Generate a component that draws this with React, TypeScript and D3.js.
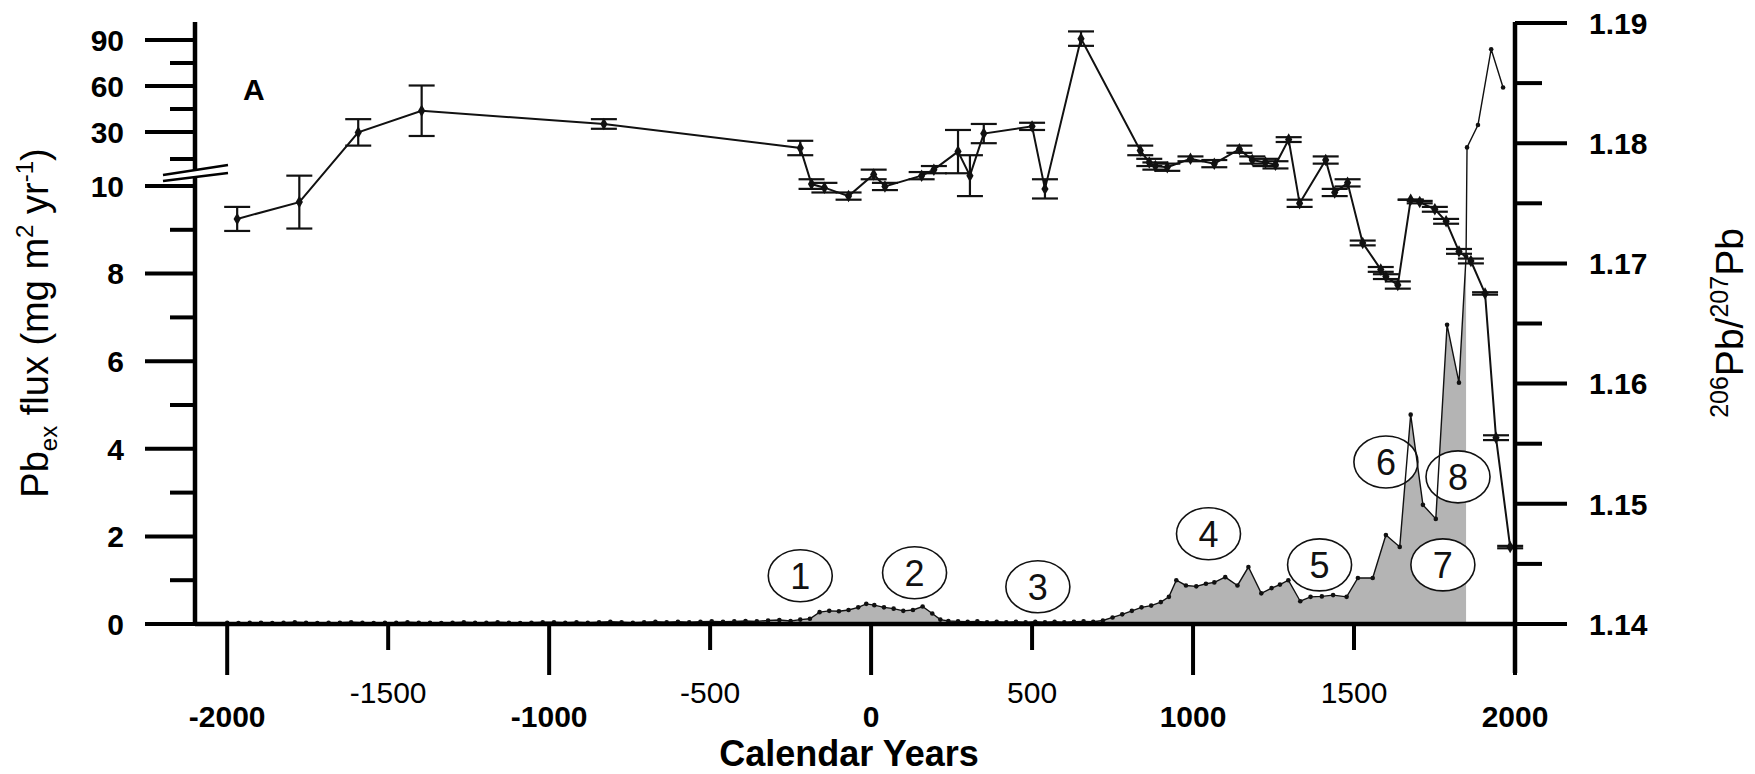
import React from "react";
import * as d3 from "d3";

// ---------- data ----------
const fluxYears = [
  -2000, -1965, -1930, -1895, -1860, -1825, -1790, -1755, -1720, -1685,
  -1650, -1615, -1580, -1545, -1510, -1475, -1440, -1405, -1370, -1335,
  -1300, -1265, -1230, -1195, -1160, -1125, -1090, -1055, -1020, -985,
  -950, -915, -880, -845, -810, -775, -740, -705, -670, -635,
  -600, -565, -530, -495, -460, -425, -390, -355, -320, -285, -250,
  -220, -190, -160, -130, -100, -70, -40, -15, 10, 40, 70, 100, 130, 160, 190,
  215, 240, 270, 300, 330, 360, 390, 420, 450, 480, 510, 540, 570, 600, 630,
  660, 690, 720, 750, 780, 810, 840, 870, 900, 925, 948, 978, 1010, 1040,
  1066, 1100, 1138, 1172, 1212, 1244, 1270, 1296, 1333, 1365, 1400, 1435,
  1477, 1512, 1558, 1599, 1642, 1676, 1714, 1754, 1789, 1826, 1848,
  1851, 1885, 1926, 1963,
];
const fluxValues = [
  0.03, 0.02, 0.03, 0.03, 0.02, 0.03, 0.04, 0.03, 0.02, 0.03,
  0.03, 0.04, 0.03, 0.02, 0.03, 0.03, 0.04, 0.03, 0.03, 0.02,
  0.03, 0.04, 0.03, 0.03, 0.04, 0.03, 0.02, 0.03, 0.04, 0.04,
  0.03, 0.04, 0.03, 0.04, 0.05, 0.04, 0.03, 0.04, 0.05, 0.04,
  0.05, 0.04, 0.05, 0.06, 0.05, 0.06, 0.07, 0.06, 0.08, 0.09, 0.07,
  0.1, 0.12, 0.27, 0.3, 0.29, 0.32, 0.38, 0.46, 0.43, 0.38, 0.35, 0.3, 0.32, 0.4, 0.24,
  0.1, 0.07, 0.06, 0.05, 0.06, 0.04, 0.05, 0.04, 0.05, 0.04, 0.05, 0.04, 0.05, 0.04, 0.05,
  0.06, 0.05, 0.08, 0.15, 0.22, 0.3, 0.38, 0.42, 0.5, 0.62, 1.0, 0.88, 0.86, 0.92,
  0.95, 1.07, 0.88, 1.3, 0.7, 0.82, 0.9, 1.0, 0.52, 0.62, 0.63, 0.66,
  0.62, 1.05, 1.05, 2.03, 1.76, 4.78, 2.72, 2.4, 6.83, 5.51, 8.39,
  24.3, 34.6, 84, 59,
];

const ratioYears = [
  -1969, -1776, -1593, -1396, -830, -220, -185, -145, -70, 8,
  43, 157, 195, 270, 307, 350, 500, 540, 652, 836,
  864, 883, 920, 992, 1066, 1144, 1184, 1225, 1256, 1297,
  1331, 1412, 1440, 1480, 1527, 1583, 1599, 1636, 1676, 1704,
  1751, 1786, 1826, 1863, 1907, 1941, 1985,
];
const ratioValues = [
  1.1737, 1.1751, 1.1809, 1.1827, 1.1816, 1.1796, 1.1766, 1.1763, 1.1756, 1.1774,
  1.1764, 1.1773, 1.1778, 1.1793, 1.1773, 1.1808, 1.1814, 1.1762, 1.1887, 1.1794,
  1.1784, 1.1781, 1.178, 1.1787, 1.1783, 1.1795, 1.1786, 1.1784, 1.1782, 1.1803,
  1.175, 1.1786, 1.1759, 1.1767, 1.1717, 1.1695, 1.1689, 1.1682, 1.1753, 1.1751,
  1.1745, 1.1735, 1.171, 1.1702, 1.1675, 1.1555, 1.1464,
];
const ratioErrors = [
  0.001, 0.0022, 0.0011, 0.0021, 0.0004, 0.0006, 0.0004, 0.0004, 0.0003, 0.0004,
  0.0003, 0.0003, 0.0003, 0.0018, 0.0017, 0.0008, 0.0003, 0.0008, 0.0006, 0.0004,
  0.0003, 0.0003, 0.0003, 0.0002, 0.0003, 0.0003, 0.0003, 0.0003, 0.0003, 0.0002,
  0.0003, 0.0003, 0.0003, 0.0003, 0.0002, 0.0002, 0.0002, 0.0003, 0.0, 0.0001,
  0.0002, 0.0002, 0.0002, 0.0002, 0.0001, 0.0002, 0.0001,
];

const xTicks = [-2000, -1500, -1000, -500, 0, 500, 1000, 1500, 2000];
const leftMajorTicks = [0, 2, 4, 6, 8, 10, 30, 60, 90];
const leftMinorTicks = [1, 3, 5, 7, 9, 20, 45, 75];
const rightMajorTicks = [1.14, 1.15, 1.16, 1.17, 1.18, 1.19];
const rightMinorTicks = [1.145, 1.155, 1.165, 1.175, 1.185];

const bubbleLabels = ["1", "2", "3", "4", "5", "6", "7", "8"];
const bubbleYears = [-220, 135, 518, 1048, 1393, 1599, 1776, 1823];
const bubbleFlux = [1.1, 1.17, 0.85, 2.06, 1.35, 3.7, 1.35, 3.36];

const FONT = "'Liberation Sans', Arial, Helvetica, sans-serif";

export default function App() {
  const x = d3.scaleLinear().domain([-2100, 2000]).range([195, 1515]);
  const yFlux = d3
    .scaleLinear()
    .domain([0, 10, 30, 60, 90])
    .range([624, 186, 132, 86, 40]);
  const yRatio = d3.scaleLinear().domain([1.14, 1.19]).range([624, 23]);

  const fluxPts = fluxYears.map((yr, i) => ({ yr, v: fluxValues[i] }));
  const lowPts = fluxPts.filter((d) => d.v <= 10);
  const area = d3
    .area<{ yr: number; v: number }>()
    .x((d) => x(d.yr))
    .y0(yFlux(0))
    .y1((d) => yFlux(d.v))(lowPts);
  const fluxLine = d3
    .line<{ yr: number; v: number }>()
    .x((d) => x(d.yr))
    .y((d) => yFlux(d.v))(fluxPts);

  const ratioPts = ratioYears.map((yr, i) => ({
    yr,
    v: ratioValues[i],
    e: ratioErrors[i],
  }));
  const ratioLine = d3
    .line<{ yr: number; v: number }>()
    .x((d) => x(d.yr))
    .y((d) => yRatio(d.v))(ratioPts);
  const diamond = d3.symbol().type(d3.symbolDiamond).size(45)();

  const xL = x.range()[0];
  const xR = x.range()[1];
  const y0 = yFlux(0);
  const yTop = yRatio(1.19) - 1;
  const breakY = yFlux(10) - 8;

  return (
    <svg
      width={1755}
      height={774}
      style={{ position: "absolute", left: 0, top: 0, background: "#fff" }}
      fontFamily={FONT}
    >
      <rect width={1755} height={774} fill="#fff" />
      {/* flux area */}
      <path d={area || ""} fill="#b4b4b4" stroke="none" />

      {/* bubbles */}
      {bubbleLabels.map((lab, i) => (
        <g key={lab} transform={`translate(${x(bubbleYears[i])},${yFlux(bubbleFlux[i])})`}>
          <ellipse rx={32} ry={26} fill="#fff" stroke="#111" strokeWidth={1.6} />
          <text textAnchor="middle" dy="0.36em" fontSize={36} fill="#111">
            {lab}
          </text>
        </g>
      ))}

      {/* flux line */}
      <path d={fluxLine || ""} fill="none" stroke="#111" strokeWidth={1.4} />
      {fluxPts.map((d, i) => (
        <circle key={i} cx={x(d.yr)} cy={yFlux(d.v)} r={2.3} fill="#111" />
      ))}

      {/* ratio line with error bars */}
      <path d={ratioLine || ""} fill="none" stroke="#111" strokeWidth={2} />
      {ratioPts.map((d, i) => {
        const cx = x(d.yr);
        const yt = yRatio(d.v + d.e);
        const yb = yRatio(d.v - d.e);
        return (
          <g key={i} stroke="#111" strokeWidth={2.2}>
            <line x1={cx} x2={cx} y1={yt} y2={yb} />
            <line x1={cx - 13} x2={cx + 13} y1={yt} y2={yt} />
            <line x1={cx - 13} x2={cx + 13} y1={yb} y2={yb} />
            <path d={diamond || ""} transform={`translate(${cx},${yRatio(d.v)})`} fill="#111" stroke="none" />
          </g>
        );
      })}

      {/* x axis */}
      <line x1={xL} x2={xR} y1={y0} y2={y0} stroke="#000" strokeWidth={4.5} />
      {xTicks.map((t) => {
        const long = t % 1000 === 0;
        return (
          <g key={t}>
            <line x1={x(t)} x2={x(t)} y1={y0} y2={long ? 675 : 650} stroke="#000" strokeWidth={4} />
            <text
              x={x(t)}
              y={long ? 727 : 703}
              textAnchor="middle"
              fontSize={30}
              fontWeight={long ? "bold" : "normal"}
              fill="#000"
            >
              {t}
            </text>
          </g>
        );
      })}
      <text x={(xL + xR) / 2 - 6} y={766} textAnchor="middle" fontSize={36} fontWeight="bold" fill="#000">
        Calendar Years
      </text>

      {/* left axis */}
      <line x1={xL} x2={xL} y1={22} y2={y0 + 2} stroke="#000" strokeWidth={4.5} />
      {leftMajorTicks.map((t) => (
        <g key={t}>
          <line x1={xL - 50} x2={xL} y1={yFlux(t)} y2={yFlux(t)} stroke="#000" strokeWidth={4} />
          <text x={124} y={yFlux(t)} dy="0.36em" textAnchor="end" fontSize={30} fontWeight="bold" fill="#000">
            {t}
          </text>
        </g>
      ))}
      {leftMinorTicks.map((t) => (
        <line key={t} x1={xL - 25} x2={xL} y1={yFlux(t)} y2={yFlux(t)} stroke="#000" strokeWidth={4} />
      ))}
      {/* axis break */}
      <polygon
        points={`${xL - 32},${breakY - 3} ${xL + 33},${breakY - 13} ${xL + 33},${breakY - 5} ${xL - 32},${breakY + 3}`}
        fill="#fff"
      />
      <line x1={xL - 32} y1={breakY - 3} x2={xL + 33} y2={breakY - 13} stroke="#000" strokeWidth={2.6} />
      <line x1={xL - 32} y1={breakY + 3} x2={xL + 33} y2={breakY - 5} stroke="#000" strokeWidth={2.6} />

      <text transform={`translate(48,${(22 + y0) / 2}) rotate(-90)`} textAnchor="middle" fontSize={38} fill="#000">
        Pb
        <tspan fontSize={24} dy={9}>ex</tspan>
        <tspan dy={-9}> flux (mg m</tspan>
        <tspan fontSize={24} dy={-15}>2</tspan>
        <tspan dy={15}> yr</tspan>
        <tspan fontSize={24} dy={-15}>-1</tspan>
        <tspan dy={15}>)</tspan>
      </text>

      {/* right axis */}
      <line x1={xR} x2={xR} y1={yTop} y2={673} stroke="#000" strokeWidth={4.5} />
      {rightMajorTicks.map((t) => (
        <g key={t}>
          <line x1={xR} x2={xR + 52} y1={yRatio(t)} y2={yRatio(t)} stroke="#000" strokeWidth={4} />
          <text x={1589} y={yRatio(t)} dy="0.36em" fontSize={30} fontWeight="bold" fill="#000">
            {t.toFixed(2)}
          </text>
        </g>
      ))}
      {rightMinorTicks.map((t) => (
        <line key={t} x1={xR} x2={xR + 27} y1={yRatio(t)} y2={yRatio(t)} stroke="#000" strokeWidth={4} />
      ))}
      <text transform={`translate(1743,${(22 + y0) / 2}) rotate(-90)`} textAnchor="middle" fontSize={39} fill="#000">
        <tspan fontSize={25} dy={-15}>206</tspan>
        <tspan dy={15}>Pb/</tspan>
        <tspan fontSize={25} dy={-15}>207</tspan>
        <tspan dy={15}>Pb</tspan>
      </text>

      {/* panel letter */}
      <text x={243} y={100} fontSize={30} fontWeight="bold" fill="#000">
        A
      </text>
    </svg>
  );
}
